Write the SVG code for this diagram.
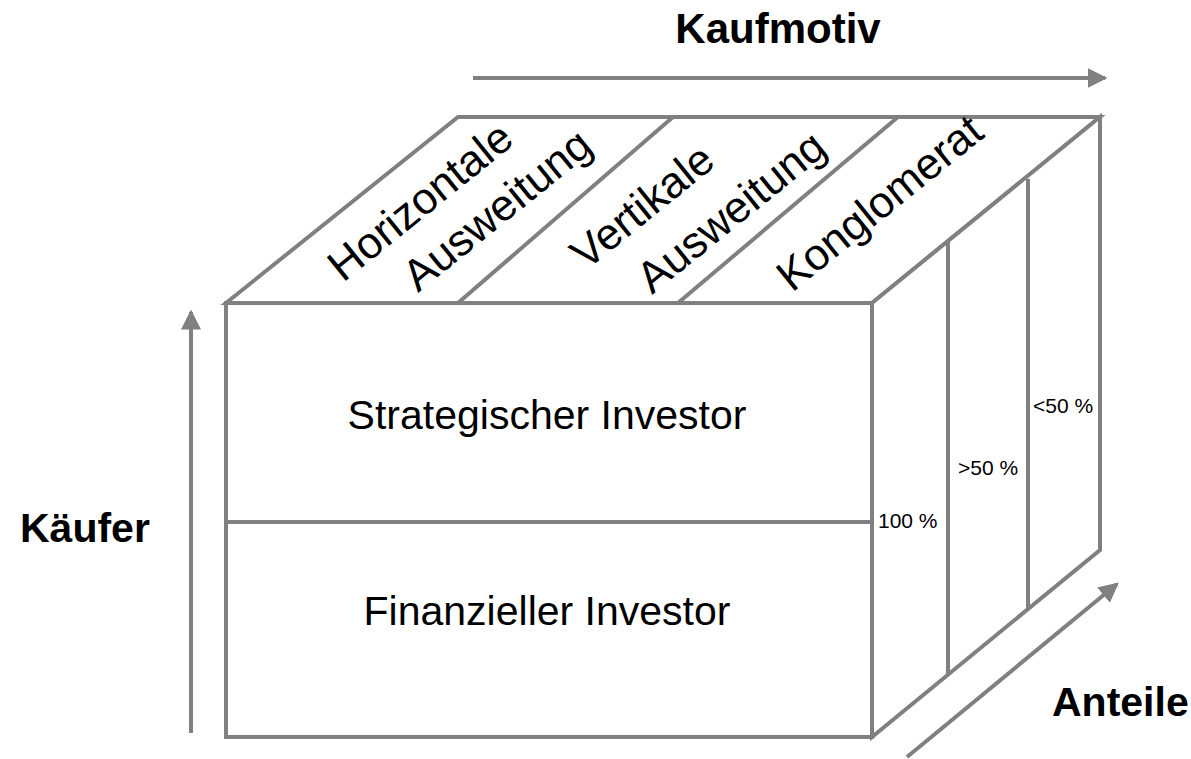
<svg xmlns="http://www.w3.org/2000/svg" width="1191" height="759" viewBox="0 0 1191 759">
<style>
.edge{fill:none;stroke:#808080;stroke-width:4;stroke-linejoin:miter}
.face{fill:#ffffff;stroke:#808080;stroke-width:4;stroke-linejoin:miter}
.arrow{fill:none;stroke:#808080;stroke-width:4}
.t{font-family:"Liberation Sans",Arial,sans-serif;fill:#000}
.big{font-size:41px}
.top{font-size:44px}
.pct{font-size:21px}
.axis{font-size:41px;font-weight:bold}
</style>
<defs>
<marker id="ah" markerUnits="userSpaceOnUse" markerWidth="20" markerHeight="20" viewBox="0 0 16 16" refX="14" refY="8" orient="auto">
<path d="M0,0 L16,8 L0,16 Z" fill="#808080"/>
</marker>
</defs>
<rect width="1191" height="759" fill="#ffffff"/>
<g id="top-face">
<polygon class="face" points="226,303 458,117 1100,117 872,303"/>
<line class="edge" x1="458" y1="303" x2="673" y2="117"/>
<line class="edge" x1="678" y1="303" x2="898" y2="117"/>
</g>
<g id="right-face">
<polygon class="face" points="872,303 1100,117 1100,550 872,737"/>
<line class="edge" x1="948" y1="241" x2="948" y2="675"/>
<line class="edge" x1="1028" y1="179" x2="1028" y2="610"/>
</g>
<g id="front-face">
<rect class="face" x="226" y="303" width="646" height="434"/>
<line class="edge" x1="226" y1="522" x2="872" y2="522"/>
</g>
<g id="node-strategisch"><text class="t big" x="547" y="429" text-anchor="middle">Strategischer Investor</text></g>
<g id="node-finanziell"><text class="t big" x="547" y="625" text-anchor="middle">Finanzieller Investor</text></g>
<g id="node-horizontal">
<text class="t top" transform="translate(343,283) rotate(-39)">Horizontale</text>
<text class="t top" transform="translate(418,293) rotate(-39)">Ausweitung</text>
</g>
<g id="node-vertikal">
<text class="t top" transform="translate(586,271) rotate(-39)">Vertikale</text>
<text class="t top" transform="translate(652,295) rotate(-39)">Ausweitung</text>
</g>
<g id="node-konglomerat">
<text class="t top" transform="translate(792,293) rotate(-39)">Konglomerat</text>
</g>
<g id="node-anteile-labels">
<text class="t pct" x="878" y="528">100 %</text>
<text class="t pct" x="958" y="475">&gt;50 %</text>
<text class="t pct" x="1033" y="413">&lt;50 %</text>
</g>
<g id="connectors">
<line class="arrow" x1="473" y1="78" x2="1105" y2="78" marker-end="url(#ah)"/>
<line class="arrow" x1="191" y1="733" x2="191" y2="312" marker-end="url(#ah)"/>
<line class="arrow" x1="907" y1="757" x2="1117" y2="584" marker-end="url(#ah)"/>
</g>
<g id="axis-labels">
<text class="t axis" style="font-size:42px" x="778" y="43" text-anchor="middle">Kaufmotiv</text>
<text class="t axis" x="20" y="542">Käufer</text>
<text class="t axis" x="1052" y="716">Anteile</text>
</g>
</svg>
